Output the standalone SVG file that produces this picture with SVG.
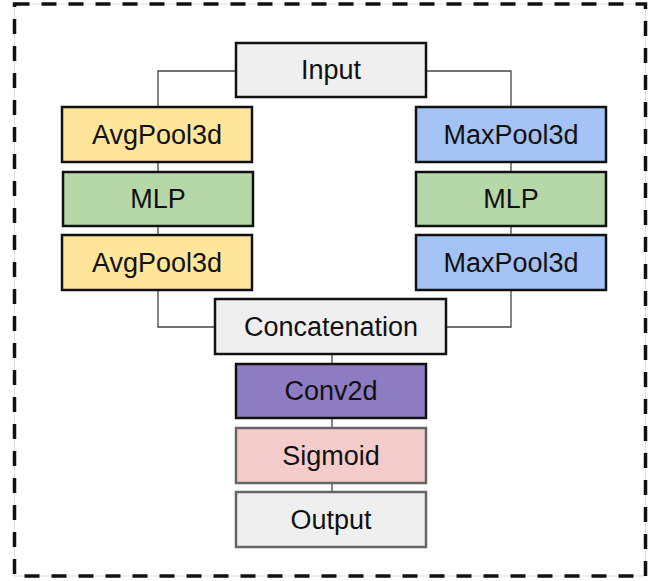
<svg xmlns="http://www.w3.org/2000/svg" width="660" height="581" viewBox="0 0 660 581">
<style>
.b{stroke:#111;stroke-width:2.5}
.g{stroke:#666;stroke-width:2.5}
.t{font-family:"Liberation Sans",Arial,sans-serif;font-size:27px;fill:#111;text-anchor:middle}
.c{fill:none;stroke:#444;stroke-width:1.3}
</style>
<rect x="0" y="0" width="660" height="581" fill="#fff"/>
<rect x="14.5" y="4" width="631" height="572" fill="none" stroke="#ddd" stroke-width="1"/>
<rect x="14.5" y="4" width="631" height="572" fill="none" stroke="#111" stroke-width="3.5" stroke-dasharray="15,12"/>
<g id="connectors">
<polyline class="c" points="236,71 158,71 158,107"/>
<polyline class="c" points="426,71 511,71 511,107"/>
<line class="c" x1="158" y1="162" x2="158" y2="172"/>
<line class="c" x1="158" y1="226" x2="158" y2="235"/>
<line class="c" x1="511" y1="162" x2="511" y2="172"/>
<line class="c" x1="511" y1="226" x2="511" y2="235"/>
<polyline class="c" points="158,290 158,327 215,327"/>
<polyline class="c" points="511,290 511,327 446,327"/>
<line class="c" x1="332" y1="354" x2="332" y2="364"/>
<line class="c" x1="332" y1="418" x2="332" y2="428"/>
<line class="c" x1="332" y1="483" x2="332" y2="492"/>
</g>
<g id="input"><rect class="b" x="236" y="43" width="190" height="54" fill="#efefef"/><text class="t" x="331" y="79">Input</text></g>
<g id="avgpool1"><rect class="b" x="62" y="107" width="190" height="55" fill="#ffe599"/><text class="t" x="157" y="144">AvgPool3d</text></g>
<g id="mlp1"><rect class="b" x="63" y="172" width="190" height="54" fill="#b6d7a8"/><text class="t" x="158" y="208">MLP</text></g>
<g id="avgpool2"><rect class="b" x="62" y="235" width="190" height="55" fill="#ffe599"/><text class="t" x="157" y="272">AvgPool3d</text></g>
<g id="maxpool1"><rect class="b" x="416" y="107" width="190" height="55" fill="#a4c2f4"/><text class="t" x="511" y="144">MaxPool3d</text></g>
<g id="mlp2"><rect class="b" x="416" y="172" width="190" height="54" fill="#b6d7a8"/><text class="t" x="511" y="208">MLP</text></g>
<g id="maxpool2"><rect class="b" x="416" y="235" width="190" height="55" fill="#a4c2f4"/><text class="t" x="511" y="272">MaxPool3d</text></g>
<g id="concat"><rect class="b" x="215" y="299" width="231" height="55" fill="#efefef"/><text class="t" x="331" y="336">Concatenation</text></g>
<g id="conv2d"><rect class="b" x="236" y="364" width="190" height="54" fill="#8e7cc3"/><text class="t" x="331" y="400">Conv2d</text></g>
<g id="sigmoid"><rect class="g" x="236" y="428" width="190" height="55" fill="#f4cccc"/><text class="t" x="331" y="465">Sigmoid</text></g>
<g id="output"><rect class="g" x="236" y="492" width="190" height="55" fill="#efefef"/><text class="t" x="331" y="529">Output</text></g>
</svg>
